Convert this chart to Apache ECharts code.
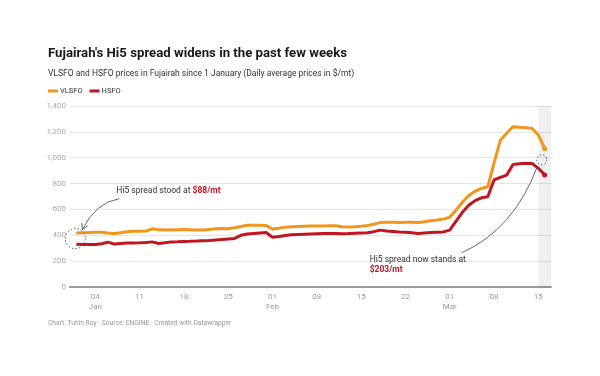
<!DOCTYPE html>
<html>
<head>
<meta charset="utf-8">
<script src="https://cdn.jsdelivr.net/npm/echarts/dist/echarts.min.js"></script>
<style>
  html, body { margin: 0; padding: 0; background: #fff; }
  #chart { width: 600px; height: 376px; }
</style>
</head>
<body>
<div id="chart"></div>
<script>
// daily categories, 31 Dec 2021 (padding) .. 17 Mar 2022 (padding)
var categories = [];
(function () {
  var d = new Date(Date.UTC(2021, 11, 31));
  for (var i = 0; i < 77; i++) {
    categories.push(d.toISOString().slice(0, 10));
    d.setUTCDate(d.getUTCDate() + 1);
  }
})();

// prices in $/mt, 1 Jan .. 16 Mar
var vlsfo = [null,
  418, 420, 421, 423, 424, 418, 414, 420, 428, 432,
  432, 433, 450, 442, 440, 441, 443, 444, 443, 441,
  440, 445, 450, 452, 450, 458, 468, 477, 478, 477,
  476, 448, 455, 463, 466, 468, 470, 471, 472, 472,
  473, 473, 466, 464, 466, 470, 476, 486, 498, 500,
  500, 499, 500, 500, 499, 505, 512, 518, 525, 540,
  595, 655, 708, 740, 762, 775, 960, 1135, 1190, 1240,
  1236, 1232, 1228, 1176, 1070, null];
var hsfo = [null,
  330, 329, 329, 329, 335, 347, 332, 336, 340, 341,
  342, 345, 349, 337, 342, 349, 350, 352, 353, 355,
  358, 360, 364, 368, 372, 376, 400, 410, 414, 418,
  422, 384, 390, 398, 404, 406, 408, 410, 412, 413,
  414, 414, 412, 413, 416, 418, 420, 428, 440, 434,
  430, 426, 424, 420, 414, 418, 422, 424, 426, 440,
  510, 578, 632, 668, 690, 698, 828, 848, 866, 948,
  953, 957, 956, 918, 867, null];

var yTicks = [0, 200, 400, 600, 800, 1000, 1200, 1400];
var monthNames = ['Jan', 'Feb', 'Mar', 'Apr', 'May', 'Jun', 'Jul', 'Aug', 'Sep', 'Oct', 'Nov', 'Dec'];

var ORANGE = '#f2951c';
var RED = '#c0161f';
var lastIdx = 75;

var myChart = echarts.init(document.getElementById('chart'));

function endSymbol(v, p) {
  return p.dataIndex === lastIdx ? 5 : 0;
}

var option = {
  animation: false,
  textStyle: { fontFamily: 'Roboto' },
  title: [
    { text: "Fujairah's Hi5 spread widens in the past few weeks", left: 48, top: 47, padding: 0,
      textStyle: { fontSize: 13.2, fontWeight: 'bold', color: '#181818', fontFamily: 'Roboto' } },
    { text: 'VLSFO and HSFO prices in Fujairah since 1 January (Daily average prices in $/mt)', left: 48, top: 69, padding: 0,
      textStyle: { fontSize: 8.5, fontWeight: 'normal', color: '#333', fontFamily: 'Roboto' } },
    { text: 'Chart: Tuhin Roy \u00b7 Source: ENGINE \u00b7 Created with Datawrapper', left: 48, top: 320, padding: 0,
      textStyle: { fontSize: 6.7, fontWeight: 'normal', color: '#999', fontFamily: 'Roboto' } }
  ],
  legend: {
    left: 48, top: 87, padding: 0,
    icon: 'rect', itemWidth: 10, itemHeight: 3, itemGap: 7,
    textStyle: { fontSize: 7.5, color: '#333', padding: [0, 0, 0, -3] },
    data: ['VLSFO', 'HSFO']
  },
  grid: { left: 70, right: 49, top: 106, bottom: 89 },
  xAxis: {
    type: 'category',
    data: categories,
    boundaryGap: false,
    axisLine: { lineStyle: { color: '#9a9a9a', width: 2 } },
    axisTick: { show: false },
    axisLabel: {
      color: '#9a9a9a', fontSize: 8, lineHeight: 10, margin: 5,
      interval: function (i) { return i >= 4 && (i - 4) % 7 === 0; },
      formatter: function (v) {
        var day = +v.slice(8, 10);
        var s = v.slice(8, 10);
        if (day <= 7) s += '\n' + monthNames[+v.slice(5, 7) - 1];
        return s;
      }
    },
    splitLine: { show: false }
  },
  yAxis: {
    type: 'value',
    min: yTicks[0], max: yTicks[yTicks.length - 1], interval: 200,
    axisLine: { show: false },
    axisTick: { show: false },
    axisLabel: {
      color: '#aaa', fontSize: 8, margin: 4,
      formatter: function (v) { return v.toLocaleString('en-US'); }
    },
    splitLine: { lineStyle: { color: '#e6e6e6', width: 1 } }
  },
  series: [
    {
      name: 'VLSFO', type: 'line', data: vlsfo,
      color: ORANGE,
      lineStyle: { width: 3, color: ORANGE },
      symbol: 'circle', showAllSymbol: true, symbolSize: endSymbol,
      itemStyle: { color: ORANGE },
      markArea: {
        silent: true,
        itemStyle: { color: 'rgba(0,0,0,0.06)' },
        data: [[{ xAxis: '2022-03-15' }, { xAxis: '2022-03-17' }]]
      },
      z: 3
    },
    {
      name: 'HSFO', type: 'line', data: hsfo,
      color: RED,
      lineStyle: { width: 3, color: RED },
      symbol: 'circle', showAllSymbol: true, symbolSize: endSymbol,
      itemStyle: { color: RED },
      z: 3
    }
  ]
};

myChart.setOption(option);

// annotations anchored to the data points
function px(series, i) {
  return myChart.convertToPixel({ seriesIndex: 0 }, [categories[i], series[i]]);
}

function arrowHead(tip, from, size) {
  var dx = tip[0] - from[0], dy = tip[1] - from[1];
  var len = Math.sqrt(dx * dx + dy * dy);
  var ux = dx / len, uy = dy / len;
  var bx = tip[0] - ux * size, by = tip[1] - uy * size;
  return [[bx - uy * size * 0.55, by + ux * size * 0.55], tip, [bx + uy * size * 0.55, by - ux * size * 0.55]];
}

var s0 = px(vlsfo, 1), h0 = px(hsfo, 1);
var sN = px(vlsfo, lastIdx), hN = px(hsfo, lastIdx);
var c1 = [(s0[0] + h0[0]) / 2 - 1, (s0[1] + h0[1]) / 2];
var c2 = [sN[0] - 3, (sN[1] + hN[1]) / 2 - 2];

var a1s = [c1[0] + 44, c1[1] - 40], a1e = [c1[0] + 7, c1[1] - 9], a1c = [c1[0] + 20, c1[1] - 36];
var a2s = [c2[0] - 80, c2[1] + 93], a2e = [c2[0] - 4, c2[1] + 6], a2c = [c2[0] - 28, c2[1] + 70];

myChart.setOption({
  graphic: [
    { type: 'circle', shape: { cx: c1[0], cy: c1[1], r: 10 },
      style: { fill: 'none', stroke: '#555', lineWidth: 1, lineDash: [1.5, 2] }, z: 10 },
    { type: 'circle', shape: { cx: c2[0], cy: c2[1], r: 5 },
      style: { fill: 'none', stroke: '#555', lineWidth: 1, lineDash: [1.5, 2] }, z: 10 },
    { type: 'bezierCurve',
      shape: { x1: a1s[0], y1: a1s[1], x2: a1e[0], y2: a1e[1], cpx1: a1c[0], cpy1: a1c[1] },
      style: { fill: 'none', stroke: '#444', lineWidth: 0.8 }, z: 10 },
    { type: 'polyline', shape: { points: arrowHead(a1e, a1c, 6) },
      style: { fill: 'none', stroke: '#444', lineWidth: 0.8 }, z: 10 },
    { type: 'bezierCurve',
      shape: { x1: a2s[0], y1: a2s[1], x2: a2e[0], y2: a2e[1], cpx1: a2c[0], cpy1: a2c[1] },
      style: { fill: 'none', stroke: '#444', lineWidth: 0.8 }, z: 10 },
    { type: 'text', left: c1[0] + 41, top: c1[1] - 52, z: 10,
      style: {
        text: 'Hi5 spread stood at {r|$88/mt}',
        font: '8.5px Roboto', fill: '#333',
        rich: { r: { fontFamily: 'Roboto', fontSize: 8.5, fontWeight: 'bold', fill: RED } }
      } },
    { type: 'text', left: c2[0] - 172, top: c2[1] + 95, z: 10,
      style: {
        text: 'Hi5 spread now stands at\n{r|$203/mt}',
        font: '8.5px Roboto', fill: '#333', lineHeight: 10,
        rich: { r: { fontFamily: 'Roboto', fontSize: 8.5, fontWeight: 'bold', fill: RED, lineHeight: 10 } }
      } }
  ]
});
</script>
</body>
</html>
